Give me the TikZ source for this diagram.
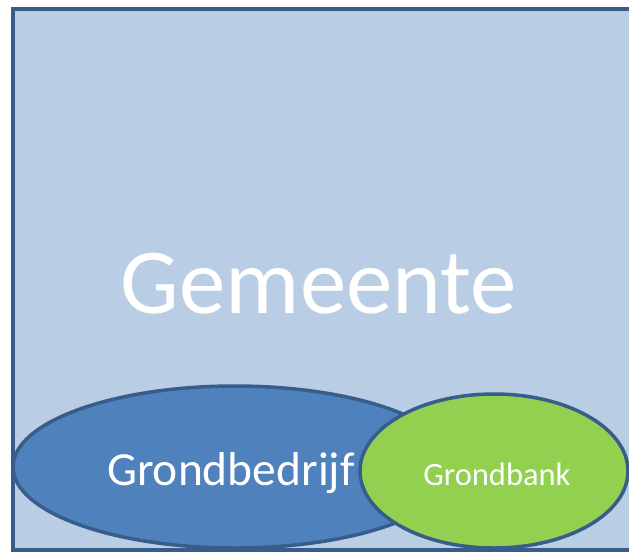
\documentclass[tikz,border=0pt]{standalone}
\usepackage{fontspec}
\setmainfont{Carlito}
\usetikzlibrary{shapes.geometric}
\definecolor{gemeentefill}{HTML}{B9CDE5}
\definecolor{rand}{HTML}{385D8A}
\definecolor{bedrijffill}{HTML}{4F81BD}
\definecolor{bankfill}{HTML}{92D050}
\begin{document}
\begin{tikzpicture}[x=1pt,y=-1pt,
	kader/.style={draw=rand,line width=3.5pt},
	ovaal/.style={ellipse,kader,inner sep=0pt,text=white}]
				\useasboundingbox (0,0) rectangle (629,552);
				\clip (0,0) rectangle (629,552);
				
				\draw[kader,fill=gemeentefill] (13,9) rectangle (645,550);
				\node[text=white,font=\fontsize{93}{100}\selectfont,anchor=base] (gemeente) at (319,313) {Gemeente};
				
				\node[ovaal,fill=bedrijffill,minimum width=444pt,minimum height=162pt] (bedrijf) at (235,467) {};
				\node[text=white,font=\fontsize{47.5}{50}\selectfont,anchor=base] (tbedrijf) at (231,485) {Grondbedrijf};
				
				\node[ovaal,fill=bankfill,minimum width=268pt,minimum height=154pt] (bank) at (494,471) {};
				\node[text=white,font=\fontsize{32.5}{34}\selectfont,anchor=base] (tbank) at (497,485) {Grondbank};
			\end{tikzpicture}
\end{document}
